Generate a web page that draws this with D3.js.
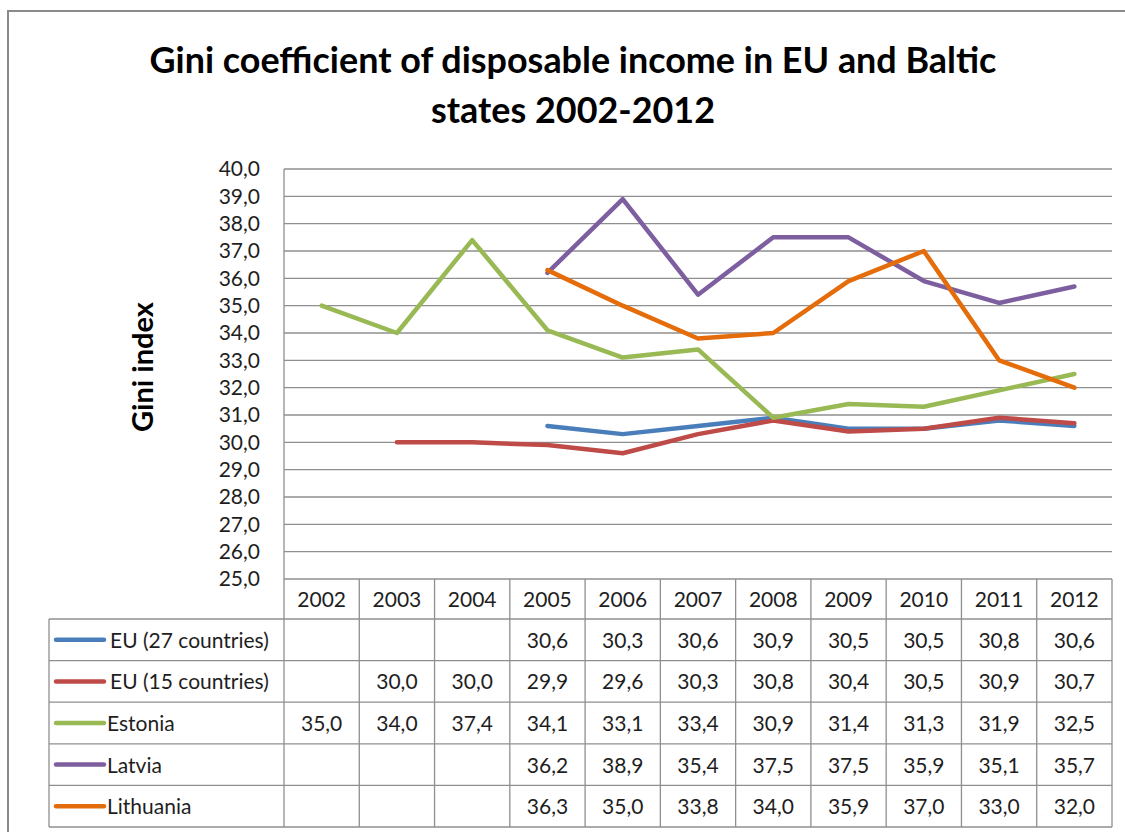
<!DOCTYPE html>
<html>
<head>
<meta charset="utf-8">
<script src="https://cdn.jsdelivr.net/npm/d3@7"></script>
<style>
  html, body { margin: 0; padding: 0; background: #fff; }
  svg { display: block; font-family: Lato, "Open Sans", sans-serif; }
</style>
</head>
<body>
<svg id="chart" width="1125" height="832"></svg>
<script>
// Gini coefficient of disposable income, EU aggregates and Baltic states
const years = ["2002","2003","2004","2005","2006","2007","2008","2009","2010","2011","2012"];
const seriesNames = ["EU (27 countries)","EU (15 countries)","Estonia","Latvia","Lithuania"];
const eu27      = [null, null, null, 30.6, 30.3, 30.6, 30.9, 30.5, 30.5, 30.8, 30.6];
const eu15      = [null, 30.0, 30.0, 29.9, 29.6, 30.3, 30.8, 30.4, 30.5, 30.9, 30.7];
const estonia   = [35.0, 34.0, 37.4, 34.1, 33.1, 33.4, 30.9, 31.4, 31.3, 31.9, 32.5];
const latvia    = [null, null, null, 36.2, 38.9, 35.4, 37.5, 37.5, 35.9, 35.1, 35.7];
const lithuania = [null, null, null, 36.3, 35.0, 33.8, 34.0, 35.9, 37.0, 33.0, 32.0];
const seriesColors = ["#4a7ebb","#be4b48","#98b954","#7d5fa0","#e46c0a"];
const yTicks = d3.range(25, 40.001, 1);
const titleLines = ["Gini coefficient of disposable income in EU and Baltic", "states 2002-2012"];
const yLabel = "Gini index";

const seriesValues = [eu27, eu15, estonia, latvia, lithuania];
const series = seriesNames.map((name, i) => ({ name, color: seriesColors[i], values: seriesValues[i] }));

const svg = d3.select("#chart");
const gridColor = "#8f8f8f";
const textColor = "#1e1e1e";
const bodySize = 21;
const fmt = v => d3.format(".1f")(v).replace(".", ",");

// layout
const plot = { left: 284, right: 1112, top: 169, bottom: 579 };
const table = { left: 49, headerBottom: 619, rowH: 41.6 };

const x = d3.scaleBand().domain(years).range([plot.left, plot.right]);
const y = d3.scaleLinear().domain([25, 40]).range([plot.bottom, plot.top]);

// outer chart frame (continues past the right and bottom edges)
svg.append("rect")
  .attr("x", 8).attr("y", 11).attr("width", 1200).attr("height", 900)
  .attr("fill", "none").attr("stroke", "#8a8a8a").attr("stroke-width", 2);

// title, two centred lines; the first line is sized to span 847px
const title = svg.append("text")
  .attr("text-anchor", "middle")
  .attr("font-weight", 700)
  .attr("font-size", 36)
  .attr("fill", "#000");
const titleSpans = titleLines.map((t, i) =>
  title.append("tspan").attr("x", 573).attr("y", 73 + i * 50).text(t));
const firstLen = titleSpans[0].node().getComputedTextLength();
if (firstLen > 0) title.attr("font-size", 36 * 847 / firstLen);

// y-axis title
const yl = svg.append("text")
  .attr("transform", "translate(153,367) rotate(-90)")
  .attr("text-anchor", "middle")
  .attr("font-weight", 700)
  .attr("font-size", 28)
  .attr("fill", "#000")
  .text(yLabel);
const ylLen = yl.node().getComputedTextLength();
if (ylLen > 0) yl.attr("font-size", 28 * 130 / ylLen);

// horizontal gridlines
svg.append("g").selectAll("line").data(yTicks).join("line")
  .attr("x1", plot.left).attr("x2", plot.right)
  .attr("y1", d => y(d)).attr("y2", d => y(d))
  .attr("stroke", gridColor).attr("stroke-width", 1.3);

// y axis and tick labels
const yAxis = d3.axisLeft(y).tickValues(yTicks).tickFormat(fmt).tickSize(0).tickPadding(24);
const yg = svg.append("g").attr("transform", `translate(${plot.left},0)`).call(yAxis);
yg.select(".domain").remove();
yg.selectAll("text")
  .attr("font-size", bodySize).attr("fill", textColor).attr("font-family", "Lato, sans-serif");

// vertical axis line runs down through the header row
svg.append("line")
  .attr("x1", plot.left).attr("x2", plot.left)
  .attr("y1", plot.top).attr("y2", table.headerBottom)
  .attr("stroke", gridColor).attr("stroke-width", 1.3);

// data table
const nRows = series.length;
const tableBottom = table.headerBottom + nRows * table.rowH;
const tg = svg.append("g");

// column separators
tg.selectAll("line.col").data(years.slice(1).concat(["end"])).join("line")
  .attr("class", "col")
  .attr("x1", d => d === "end" ? plot.right : x(d))
  .attr("x2", d => d === "end" ? plot.right : x(d))
  .attr("y1", plot.bottom).attr("y2", tableBottom)
  .attr("stroke", gridColor).attr("stroke-width", 1.3);

// legend column borders
tg.append("line")
  .attr("x1", table.left).attr("x2", table.left)
  .attr("y1", table.headerBottom).attr("y2", tableBottom)
  .attr("stroke", gridColor).attr("stroke-width", 1.3);
tg.append("line")
  .attr("x1", plot.left).attr("x2", plot.left)
  .attr("y1", table.headerBottom).attr("y2", tableBottom)
  .attr("stroke", gridColor).attr("stroke-width", 1.3);

// row separators
tg.selectAll("line.row").data(d3.range(nRows + 1)).join("line")
  .attr("class", "row")
  .attr("x1", table.left).attr("x2", plot.right)
  .attr("y1", i => table.headerBottom + i * table.rowH)
  .attr("y2", i => table.headerBottom + i * table.rowH)
  .attr("stroke", gridColor).attr("stroke-width", 1.3);

// year header
tg.selectAll("text.year").data(years).join("text")
  .attr("class", "year")
  .attr("x", d => x(d) + x.bandwidth() / 2)
  .attr("y", (plot.bottom + table.headerBottom) / 2 + 8)
  .attr("text-anchor", "middle")
  .attr("font-size", bodySize).attr("fill", textColor)
  .text(d => d);

// series rows: legend key + values
series.forEach((s, i) => {
  const cy = table.headerBottom + (i + 0.5) * table.rowH;
  tg.append("line")
    .attr("x1", 56).attr("x2", 104).attr("y1", cy).attr("y2", cy)
    .attr("stroke", s.color).attr("stroke-width", 4.5).attr("stroke-linecap", "round");
  tg.append("text")
    .attr("x", i < 2 ? 110 : 107).attr("y", cy + 8)
    .attr("font-size", bodySize).attr("fill", textColor)
    .text(s.name);
  tg.selectAll(null).data(years.map((yr, j) => ({ yr, v: s.values[j] })).filter(d => d.v != null))
    .join("text")
    .attr("x", d => x(d.yr) + x.bandwidth() / 2)
    .attr("y", cy + 8)
    .attr("text-anchor", "middle")
    .attr("font-size", bodySize).attr("fill", textColor)
    .text(d => fmt(d.v));
});

// series lines
const line = d3.line()
  .defined(d => d.v != null)
  .x(d => x(d.yr) + x.bandwidth() / 2)
  .y(d => y(d.v));

svg.append("g").selectAll("path").data(series).join("path")
  .attr("d", s => line(years.map((yr, j) => ({ yr, v: s.values[j] }))))
  .attr("fill", "none")
  .attr("stroke", s => s.color)
  .attr("stroke-width", 4.5)
  .attr("stroke-linejoin", "round")
  .attr("stroke-linecap", "round");
</script>
</body>
</html>
